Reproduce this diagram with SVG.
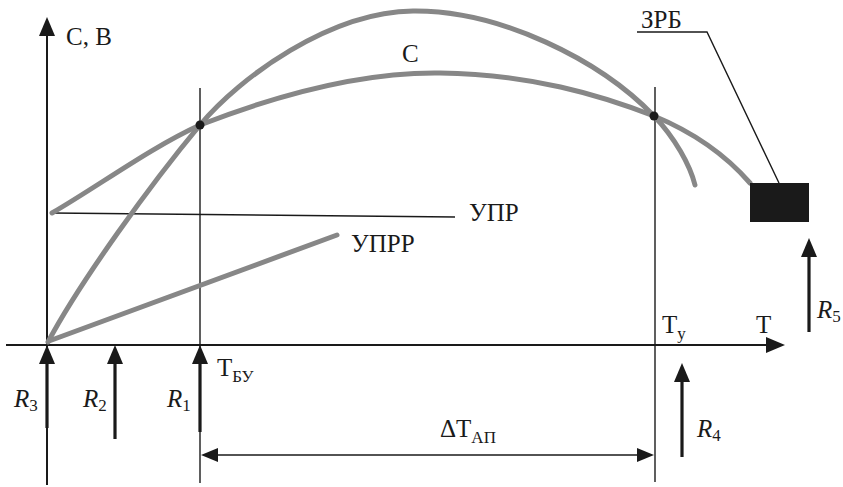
<svg xmlns="http://www.w3.org/2000/svg" width="843" height="487" viewBox="0 0 843 487" font-family="'Liberation Serif', 'DejaVu Serif', serif">
<defs>
<style>
.ax{stroke:#1a1a1a;stroke-width:2;fill:none}
.thin{stroke:#1a1a1a;stroke-width:1.4;fill:none}
.curve{stroke:#878787;stroke-width:5;fill:none;stroke-linecap:round}
.force{stroke:#1a1a1a;stroke-width:3.2;fill:none}
.head{fill:#1a1a1a}
.lbl{fill:#1a1a1a;font-size:25px}
.it{font-style:italic}
.sub{font-size:17px;font-style:normal}
</style>
</defs>
<g id="axes">
<line class="ax" x1="47" y1="30" x2="47" y2="485"/>
<polygon class="head" points="47,17 39,36 55,36"/>
<line class="ax" x1="6" y1="345" x2="770" y2="345"/>
<polygon class="head" points="785,345 766,337 766,353"/>
<text class="lbl" x="66" y="45">С, В</text>
<text class="lbl" x="756" y="333">Т</text>
</g>
<g id="connectors">
<line class="thin" x1="200" y1="88" x2="200" y2="483"/>
<line class="thin" x1="655" y1="87" x2="655" y2="482"/>
<line class="thin" x1="52" y1="213" x2="455" y2="217"/>
<polyline class="thin" points="637,32 707,32 779,183"/>
<line class="thin" x1="215" y1="455" x2="640" y2="455"/>
<polygon class="head" points="201,455 218,448 218,462"/>
<polygon class="head" points="654,455 637,448 637,462"/>
</g>
<g id="curve-B">
<path class="curve" d="M48,342 C80,282 150,185 200,125 C240,77 330,12 413,11 C500,10 600,60 654,116 C675,138 690,165 695,185"/>
</g>
<g id="curve-C">
<path class="curve" d="M52,213 C100,185 150,148 200,125 C290,90 370,72 440,73 C530,74 600,95 654,116 C700,135 730,160 750,183"/>
<text class="lbl" x="402" y="62">С</text>
</g>
<g id="uprr">
<line class="curve" x1="49" y1="341" x2="337" y2="235"/>
<text class="lbl" x="351" y="252">УПРР</text>
</g>
<g id="upr">
<text class="lbl" x="469" y="221">УПР</text>
</g>
<g id="points">
<circle cx="200" cy="125" r="4.5" fill="#1a1a1a"/>
<circle cx="654" cy="116" r="4.5" fill="#1a1a1a"/>
</g>
<g id="zrb">
<rect x="750" y="183" width="59" height="39" fill="#1a1a1a"/>
<text class="lbl" x="641" y="28" font-size="24">ЗРБ</text>
</g>
<g id="R3">
<line class="force" x1="47" y1="360" x2="47" y2="428"/>
<polygon class="head" points="47,345 39,364 55,364"/>
<text class="lbl it" x="14" y="407">R<tspan class="sub" dy="4">3</tspan></text>
</g>
<g id="R2">
<line class="force" x1="115" y1="360" x2="115" y2="439"/>
<polygon class="head" points="115,345 107,364 123,364"/>
<text class="lbl it" x="83" y="407">R<tspan class="sub" dy="4">2</tspan></text>
</g>
<g id="R1">
<line class="force" x1="200" y1="360" x2="200" y2="432"/>
<polygon class="head" points="200,345 192,364 208,364"/>
<text class="lbl it" x="167" y="407">R<tspan class="sub" dy="4">1</tspan></text>
</g>
<g id="R4">
<line class="force" x1="682" y1="378" x2="682" y2="457"/>
<polygon class="head" points="682,363 674,382 690,382"/>
<text class="lbl it" x="697" y="437">R<tspan class="sub" dy="4">4</tspan></text>
</g>
<g id="R5">
<line class="force" x1="809" y1="253" x2="809" y2="332"/>
<polygon class="head" points="809,238 801,257 817,257"/>
<text class="lbl it" x="817" y="318">R<tspan class="sub" dy="4">5</tspan></text>
</g>
<g id="T-BU">
<text class="lbl" x="217" y="376">Т<tspan class="sub" dy="6">БУ</tspan></text>
</g>
<g id="T-U">
<text class="lbl" x="662" y="333">Т<tspan class="sub" dy="6">у</tspan></text>
</g>
<g id="dT">
<text class="lbl" x="440" y="437">ΔТ<tspan class="sub" dy="6">АП</tspan></text>
</g>
</svg>
